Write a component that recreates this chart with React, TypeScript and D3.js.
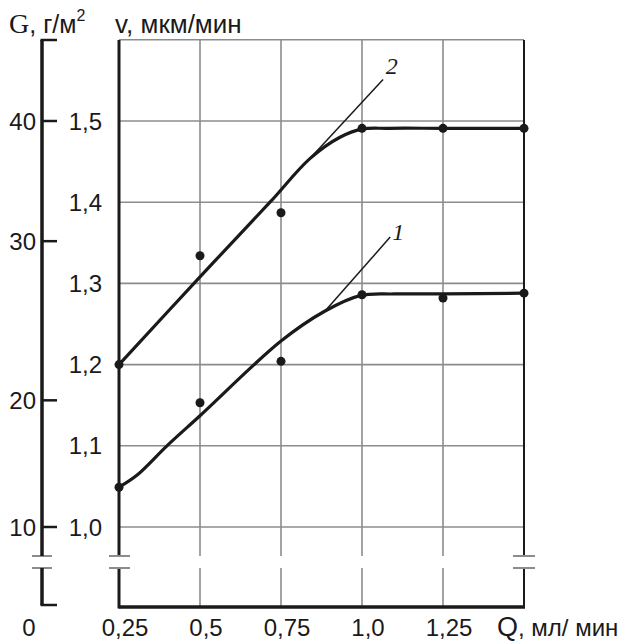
import React, { useEffect, useRef } from 'react';
import * as d3 from 'd3';

// measured points (Q, ml/min -> v, um/min)
const qPoints = [0.25, 0.5, 0.75, 1.0, 1.25, 1.5];
const v1Points = [1.049, 1.153, 1.204, 1.286, 1.282, 1.288];
const v2Points = [1.2, 1.334, 1.387, 1.491, 1.491, 1.491];

// fitted curves
const qCurve1 = [0.25, 0.306, 0.398, 0.5, 0.75, 0.886, 0.994, 1.1, 1.25, 1.5];
const v1Curve = [1.049, 1.064, 1.1, 1.137, 1.229, 1.266, 1.285, 1.287, 1.287, 1.288];
const qCurve2 = [0.25, 0.5, 0.716, 0.84, 0.932, 1.0, 1.08, 1.25, 1.5];
const v2Curve = [1.2, 1.308, 1.4, 1.454, 1.48, 1.49, 1.491, 1.491, 1.491];

// axes
const qTicks = [0.25, 0.5, 0.75, 1.0, 1.25];
const qLabels = ['0,25', '0,5', '0,75', '1,0', '1,25'];
const vTicks = [1.0, 1.1, 1.2, 1.3, 1.4, 1.5];
const vLabels = ['1,0', '1,1', '1,2', '1,3', '1,4', '1,5'];
const gTicks = [10, 20, 30, 40];
const gAtV = [1.0, 1.156, 1.352, 1.5];

const W = 632;
const H = 642;

const App = () => {
  const ref = useRef<SVGSVGElement>(null);

  useEffect(() => {
    const svg = d3.select(ref.current);
    svg.selectAll('*').remove();

    const left = 119, right = 524, top = 40, bottom = 607;
    const breakA = 556, breakB = 568;
    const gAxisX = 42;

    const x = d3.scaleLinear().domain([0.25, 1.5]).range([left, right]);
    const y = d3.scaleLinear().domain([1.0, 1.5]).range([527, 121]);
    const g = d3.scaleLinear().domain(gTicks).range(gAtV.map(v => y(v)));

    const sans = 'Liberation Sans, Arial, sans-serif';
    const serif = 'Liberation Serif, Times New Roman, serif';
    const grid = '#8c8c8c';
    const ink = '#1a1a1a';

    svg.append('rect').attr('width', W).attr('height', H).attr('fill', '#fff');

    // grid: horizontal
    svg.selectAll('.hgrid')
      .data([...vTicks, 1.6])
      .enter()
      .append('line')
      .attr('x1', left).attr('x2', right)
      .attr('y1', d => y(d)).attr('y2', d => y(d))
      .attr('stroke', grid).attr('stroke-width', 1.6);

    // grid: vertical, broken at the axis break
    [0.5, 0.75, 1.0, 1.25].forEach(q => {
      svg.append('line')
        .attr('x1', x(q)).attr('x2', x(q)).attr('y1', top).attr('y2', breakA)
        .attr('stroke', grid).attr('stroke-width', 1.6);
      svg.append('line')
        .attr('x1', x(q)).attr('x2', x(q)).attr('y1', breakB).attr('y2', bottom)
        .attr('stroke', grid).attr('stroke-width', 1.6);
    });

    // frame
    const frame = (x1, y1, x2, y2, w) =>
      svg.append('line')
        .attr('x1', x1).attr('y1', y1).attr('x2', x2).attr('y2', y2)
        .attr('stroke', ink).attr('stroke-width', w);

    frame(left, top, left, breakA, 3);
    frame(left, breakB, left, bottom + 1.5, 3);
    frame(left, bottom, right + 1, bottom, 3.5);
    frame(right, top, right, breakA, 2);
    frame(right, breakB, right, bottom, 2);

    // break marks
    [breakA, breakB].forEach(by => {
      svg.append('line').attr('x1', left - 10).attr('x2', left + 11).attr('y1', by).attr('y2', by)
        .attr('stroke', grid).attr('stroke-width', 2);
      svg.append('line').attr('x1', right - 11).attr('x2', right + 11).attr('y1', by).attr('y2', by)
        .attr('stroke', grid).attr('stroke-width', 2);
      svg.append('line').attr('x1', gAxisX - 10).attr('x2', gAxisX + 10).attr('y1', by).attr('y2', by)
        .attr('stroke', grid).attr('stroke-width', 2);
    });

    // G axis bracket
    frame(gAxisX, top, gAxisX, breakA, 3.5);
    frame(gAxisX, breakB, gAxisX, bottom - 2, 3.5);
    frame(gAxisX - 1.5, top, gAxisX + 15, top, 2.5);
    frame(gAxisX - 1.5, bottom - 2, gAxisX + 15, bottom - 2, 2.5);

    svg.selectAll('.gtick')
      .data(gTicks)
      .enter()
      .append('line')
      .attr('x1', gAxisX).attr('x2', gAxisX + 15)
      .attr('y1', d => g(d)).attr('y2', d => g(d))
      .attr('stroke', ink).attr('stroke-width', 2.5);

    svg.selectAll('.glabel')
      .data(gTicks)
      .enter()
      .append('text')
      .attr('x', 36).attr('y', d => g(d)).attr('dy', '0.36em')
      .attr('text-anchor', 'end')
      .style('font-family', sans).style('font-size', '24px').style('fill', ink)
      .text(d => d);

    svg.append('text')
      .attr('x', 29).attr('y', 636).attr('text-anchor', 'middle')
      .style('font-family', sans).style('font-size', '24px').style('fill', ink)
      .text('0');

    // v labels
    svg.selectAll('.vlabel')
      .data(vTicks)
      .enter()
      .append('text')
      .attr('x', 102).attr('y', d => y(d)).attr('dy', '0.36em')
      .attr('text-anchor', 'end')
      .style('font-family', sans).style('font-size', '24px').style('fill', ink)
      .text((d, i) => vLabels[i]);

    // Q labels
    svg.selectAll('.qlabel')
      .data(qTicks)
      .enter()
      .append('text')
      .attr('x', d => x(d) + 6).attr('y', 636)
      .attr('text-anchor', 'middle')
      .style('font-family', sans).style('font-size', '24px').style('fill', ink)
      .text((d, i) => qLabels[i]);

    // axis titles
    const gTitle = svg.append('text').attr('x', 9).attr('y', 33)
      .style('font-size', '25px').style('fill', ink);
    gTitle.append('tspan').style('font-family', serif).style('font-size', '28px').text('G');
    gTitle.append('tspan').style('font-family', sans).text(', г/м');
    gTitle.append('tspan').style('font-family', sans).style('font-size', '16px')
      .attr('dy', -12).text('2');

    svg.append('text').attr('x', 115).attr('y', 33)
      .style('font-family', sans).style('font-size', '26px').style('fill', ink)
      .text('v, мкм/мин');

    const qTitle = svg.append('text').attr('x', 497).attr('y', 636)
      .style('font-family', sans).style('font-size', '24px').style('fill', ink);
    qTitle.append('tspan').style('font-size', '27px').text('Q');
    qTitle.append('tspan').text(', мл/ мин');

    // curves
    const curve1 = qCurve1.map((q, i) => [x(q), y(v1Curve[i])] as [number, number]);
    const curve2 = qCurve2.map((q, i) => [x(q), y(v2Curve[i])] as [number, number]);

    [curve1, curve2].forEach(c => {
      svg.append('path')
        .attr('d', d3.line().curve(d3.curveCatmullRom.alpha(0.5))(c))
        .attr('fill', 'none').attr('stroke', ink).attr('stroke-width', 3.2)
        .attr('stroke-linejoin', 'round');
    });

    // points
    [v1Points, v2Points].forEach(vs => {
      svg.selectAll(null)
        .data(qPoints)
        .enter()
        .append('circle')
        .attr('cx', d => x(d))
        .attr('cy', (d, i) => y(vs[i]))
        .attr('r', 4.5)
        .attr('fill', ink);
    });

    // curve labels with leaders
    const leaders = [
      { from: [0.84, 1.454], to: [1.065, 1.551], at: [1.073, 1.558], text: '2' },
      { from: [0.886, 1.266], to: [1.087, 1.357], at: [1.093, 1.353], text: '1' },
    ];
    leaders.forEach(l => {
      svg.append('line')
        .attr('x1', x(l.from[0])).attr('y1', y(l.from[1]))
        .attr('x2', x(l.to[0])).attr('y2', y(l.to[1]))
        .attr('stroke', ink).attr('stroke-width', 1.5);
      svg.append('text')
        .attr('x', x(l.at[0])).attr('y', y(l.at[1]))
        .style('font-family', serif).style('font-style', 'italic')
        .style('font-size', '24px').style('fill', ink)
        .text(l.text);
    });
  }, []);

  return (
    <svg
      ref={ref}
      width={W}
      height={H}
      style={{ position: 'absolute', left: 0, top: 0, display: 'block' }}
    />
  );
};

export default App;
